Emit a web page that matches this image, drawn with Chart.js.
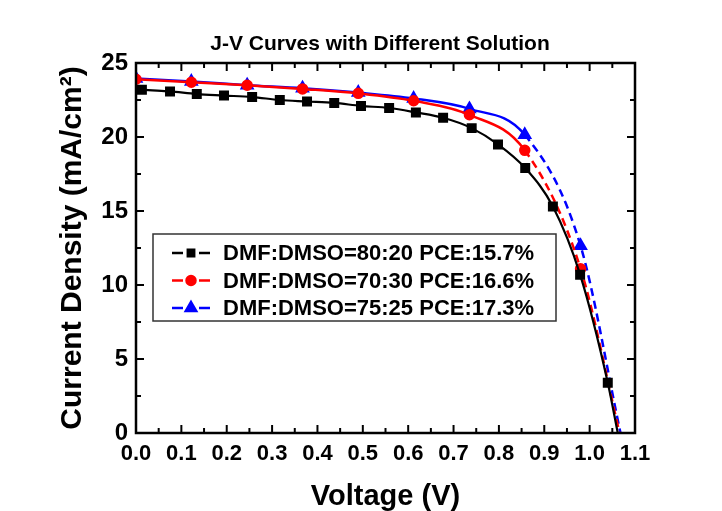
<!DOCTYPE html>
<html>
<head>
<meta charset="utf-8">
<script src="https://cdn.jsdelivr.net/npm/chart.js@4.4.0/dist/chart.umd.min.js"></script>
<style>
  html, body { margin: 0; padding: 0; background: #fff; }
  canvas { display: block; }
</style>
</head>
<body>
<canvas id="jvChart" width="722" height="511"></canvas>
<script>
// J-V data (V in volts, J in mA/cm2)
const seriesNames = ['DMF:DMSO=80:20 PCE:15.7%', 'DMF:DMSO=70:30 PCE:16.6%', 'DMF:DMSO=75:25 PCE:17.3%'];
const seriesColors = ['#000000', '#ff0000', '#0000ff'];
const seriesMarkers = ['rect', 'circle', 'triangle'];

const voltage8020 = [0.000, 0.013, 0.075, 0.134, 0.194, 0.256, 0.317, 0.377, 0.437, 0.496, 0.558, 0.617, 0.677, 0.740, 0.798, 0.858, 0.919, 0.979, 1.040, 1.062];
const current8020 = [23.25, 23.2, 23.08, 22.9, 22.8, 22.7, 22.5, 22.4, 22.3, 22.1, 21.96, 21.66, 21.3, 20.6, 19.5, 17.9, 15.3, 10.7, 3.4, 0.0];

const voltage7030 = [0.000, 0.122, 0.245, 0.367, 0.490, 0.612, 0.735, 0.857, 0.980, 1.066];
const current7030 = [23.9, 23.7, 23.5, 23.25, 22.95, 22.45, 21.5, 19.1, 11.1, 0.0];

const voltage7525 = [0.000, 0.122, 0.245, 0.367, 0.490, 0.612, 0.735, 0.857, 0.980, 1.068];
const current7525 = [23.95, 23.75, 23.5, 23.3, 23.0, 22.6, 21.9, 20.15, 12.65, 0.0];

const xTickValues = [0.0, 0.1, 0.2, 0.3, 0.4, 0.5, 0.6, 0.7, 0.8, 0.9, 1.0, 1.1];
const yTickValues = [0, 5, 10, 15, 20, 25];

const FONT = "'Liberation Sans', Arial, sans-serif";
Chart.defaults.font.family = FONT;
Chart.defaults.color = '#000';

function toPoints(xs, ys) {
  return xs.map((v, i) => ({ x: v, y: ys[i] }));
}

// no marker on the curve ends that are not measured points (start of black, Voc)
function markerRadius(r, hideFirst) {
  return ctx => {
    const n = ctx.dataset.data.length;
    if (ctx.dataIndex === n - 1) return 0;
    if (hideFirst && ctx.dataIndex === 0) return 0;
    return r;
  };
}

const dashAfterKnee = ctx => ctx.p0.parsed.x >= 0.85 ? [8, 5] : undefined;

const datasets = [
  {
    label: seriesNames[0],
    data: toPoints(voltage8020, current8020),
    borderColor: seriesColors[0], backgroundColor: seriesColors[0],
    pointStyle: seriesMarkers[0], pointRadius: markerRadius(5.5, true),
    borderWidth: 2.2
  },
  {
    label: seriesNames[1],
    data: toPoints(voltage7030, current7030),
    borderColor: seriesColors[1], backgroundColor: seriesColors[1],
    pointStyle: seriesMarkers[1], pointRadius: markerRadius(4.5, false),
    borderWidth: 2.5,
    segment: { borderDash: dashAfterKnee }
  },
  {
    label: seriesNames[2],
    data: toPoints(voltage7525, current7525),
    borderColor: seriesColors[2], backgroundColor: seriesColors[2],
    pointStyle: seriesMarkers[2], pointRadius: markerRadius(6, false),
    borderWidth: 2.5,
    segment: { borderDash: dashAfterKnee }
  }
];

// frame with inward ticks, title and the boxed legend inside the plot
const decorations = {
  id: 'decorations',
  afterDatasetsDraw(chart) {
    const { ctx, chartArea: a, scales: { x, y } } = chart;
    ctx.save();
    ctx.strokeStyle = '#000';
    ctx.lineWidth = 2;
    const tick = (x1, y1, x2, y2) => { ctx.beginPath(); ctx.moveTo(x1, y1); ctx.lineTo(x2, y2); ctx.stroke(); };

    xTickValues.forEach((v, i) => {
      const px = x.getPixelForValue(v);
      tick(px, a.bottom, px, a.bottom - 8);
      tick(px, a.top, px, a.top + 8);
      if (i < xTickValues.length - 1) {
        const pm = x.getPixelForValue((v + xTickValues[i + 1]) / 2);
        tick(pm, a.bottom, pm, a.bottom - 5);
        tick(pm, a.top, pm, a.top + 5);
      }
    });
    yTickValues.forEach((v, i) => {
      const py = y.getPixelForValue(v);
      tick(a.left, py, a.left + 8, py);
      tick(a.right, py, a.right - 8, py);
      if (i < yTickValues.length - 1) {
        const pm = y.getPixelForValue((v + yTickValues[i + 1]) / 2);
        tick(a.left, pm, a.left + 5, pm);
        tick(a.right, pm, a.right - 5, pm);
      }
    });
    ctx.lineWidth = 2.5;
    ctx.strokeRect(a.left, a.top, a.right - a.left, a.bottom - a.top);

    // title
    ctx.fillStyle = '#000';
    ctx.font = 'bold 21px ' + FONT;
    ctx.textAlign = 'center';
    ctx.textBaseline = 'middle';
    ctx.fillText('J-V Curves with Different Solution', 380, 44);

    // legend
    const box = { left: 153, top: 234, right: 556, bottom: 321 };
    ctx.fillStyle = '#fff';
    ctx.fillRect(box.left, box.top, box.right - box.left, box.bottom - box.top);
    ctx.strokeStyle = '#333';
    ctx.lineWidth = 1.5;
    ctx.strokeRect(box.left, box.top, box.right - box.left, box.bottom - box.top);
    const rows = [253, 280.5, 308];
    chart.data.datasets.forEach((ds, i) => {
      const ry = rows[i];
      ctx.strokeStyle = ds.borderColor;
      ctx.lineWidth = 2.5;
      tick(172, ry, 183, ry);
      tick(199, ry, 210, ry);
      ctx.fillStyle = ds.backgroundColor;
      Chart.helpers.drawPoint(ctx, { pointStyle: ds.pointStyle, radius: i === 2 ? 6 : 4.5, rotation: 0, borderWidth: 1 }, 191, ry);
      ctx.fillStyle = '#000';
      ctx.font = 'bold 22px ' + FONT;
      ctx.textAlign = 'left';
      ctx.textBaseline = 'middle';
      ctx.fillText(ds.label, 223, ry + 1);
    });
    ctx.restore();
  }
};

new Chart(document.getElementById('jvChart').getContext('2d'), {
  type: 'line',
  data: { datasets },
  plugins: [decorations],
  options: {
    responsive: false,
    animation: false,
    devicePixelRatio: 1,
    layout: { padding: { left: 0, top: 63, right: 87, bottom: 0 } },
    elements: {
      line: { tension: 0.4, cubicInterpolationMode: 'monotone', fill: false },
      point: { borderWidth: 1 }
    },
    datasets: { line: { clip: 1 } },
    plugins: {
      legend: { display: false },
      title: { display: false },
      tooltip: { enabled: false }
    },
    scales: {
      x: {
        type: 'linear', min: 0, max: 1.1,
        afterBuildTicks: s => { s.ticks = xTickValues.map(v => ({ value: v })); },
        afterFit: s => { s.height = 78; s.paddingLeft = 0; s.paddingRight = 0; },
        grid: { display: false, drawTicks: false },
        border: { display: false },
        ticks: { padding: 8, autoSkip: false, maxRotation: 0, font: { size: 22, weight: 'bold' }, callback: v => v.toFixed(1) },
        title: { display: true, text: 'Voltage (V)', font: { size: 29, weight: 'bold', lineHeight: 1 }, padding: { top: 0, bottom: 0 } }
      },
      y: {
        type: 'linear', min: 0, max: 25,
        afterBuildTicks: s => { s.ticks = yTickValues.map(v => ({ value: v })); },
        afterFit: s => { s.width = 136; s.paddingTop = 0; s.paddingBottom = 0; },
        grid: { display: false, drawTicks: false },
        border: { display: false },
        ticks: { padding: 8, font: { size: 24, weight: 'bold' }, callback: v => String(v) },
        title: { display: true, text: 'Current Density (mA/cm²)', font: { size: 30, weight: 'bold', lineHeight: 1 }, padding: { top: 58, bottom: 0 } }
      }
    }
  }
});
</script>
</body>
</html>
